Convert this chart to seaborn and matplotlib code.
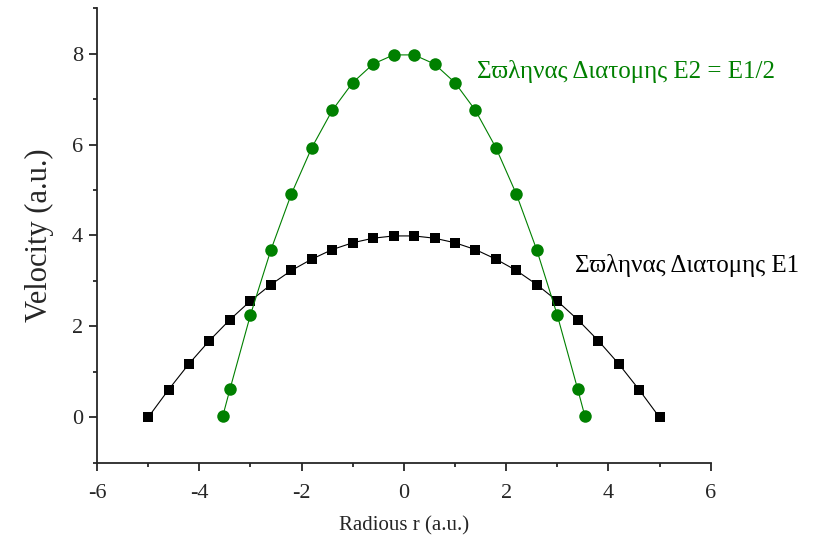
import matplotlib
matplotlib.use("Agg")
import matplotlib.pyplot as plt
import seaborn as sns
import pandas as pd
from matplotlib.ticker import MultipleLocator

# Data
r_e1 = [-5.0, -4.6, -4.2, -3.8, -3.4, -3.0, -2.6, -2.2, -1.8, -1.4, -1.0, -0.6, -0.2,
        0.2, 0.6, 1.0, 1.4, 1.8, 2.2, 2.6, 3.0, 3.4, 3.8, 4.2, 4.6, 5.0]
v_e1 = [0.0, 0.61, 1.18, 1.69, 2.15, 2.56, 2.92, 3.23, 3.48, 3.69, 3.84, 3.94, 3.99,
        3.99, 3.94, 3.84, 3.69, 3.48, 3.23, 2.92, 2.56, 2.15, 1.69, 1.18, 0.61, 0.0]

r_e2 = [-3.54, -3.4, -3.0, -2.6, -2.2, -1.8, -1.4, -1.0, -0.6, -0.2,
        0.2, 0.6, 1.0, 1.4, 1.8, 2.2, 2.6, 3.0, 3.4, 3.54]
v_e2 = [0.03, 0.62, 2.25, 3.68, 4.91, 5.93, 6.75, 7.36, 7.77, 7.97,
        7.97, 7.77, 7.36, 6.75, 5.93, 4.91, 3.68, 2.25, 0.62, 0.03]

label_e1 = "Σϖληνας Διατομης E1"
label_e2 = "Σϖληνας Διατομης E2 = E1/2"
x_label = "Radious r (a.u.)"
y_label = "Velocity (a.u.)"

sns.set_style("ticks")
plt.rcParams['font.family'] = ['Liberation Serif', 'DejaVu Serif', 'DejaVu Sans']
plt.rcParams['axes.unicode_minus'] = False

df1 = pd.DataFrame({"r": r_e1, "v": v_e1})
df2 = pd.DataFrame({"r": r_e2, "v": v_e2})

fig = plt.figure(figsize=(8.15, 5.37), dpi=100)
ax = fig.add_axes([0.119, 0.138, 0.753, 0.847])

green = "#008000"
sns.lineplot(data=df1, x="r", y="v", ax=ax, color="black", linewidth=0.8,
             marker="s", markersize=7.5, markeredgewidth=0, sort=False)
sns.lineplot(data=df2, x="r", y="v", ax=ax, color=green, linewidth=0.8,
             marker="o", markersize=9, markeredgewidth=0, sort=False)

ax.set_xlim(-6, 6)
ax.set_ylim(-1, 9)
ax.xaxis.set_major_locator(MultipleLocator(2))
ax.xaxis.set_minor_locator(MultipleLocator(1))
ax.yaxis.set_major_locator(MultipleLocator(2))
ax.yaxis.set_minor_locator(MultipleLocator(1))
ax.set_yticks([0, 2, 4, 6, 8])
ax.tick_params(which="major", direction="out", length=6, width=1.3, labelsize=16, pad=4)
ax.tick_params(axis="x", which="major", pad=9)
ax.tick_params(which="minor", direction="out", length=3, width=1.3)
for s in ["left", "bottom"]:
    ax.spines[s].set_linewidth(1.3)
sns.despine(ax=ax)

ax.set_xlabel(x_label, fontsize=15, labelpad=10)
ax.set_ylabel(y_label, fontsize=22, labelpad=13)

ax.text(1.43, 7.6, label_e2, color=green, fontsize=18, va="center", ha="left")
ax.text(3.34, 3.33, label_e1, color="black", fontsize=18, va="center", ha="left")

fig.savefig("out.png", dpi=100)
